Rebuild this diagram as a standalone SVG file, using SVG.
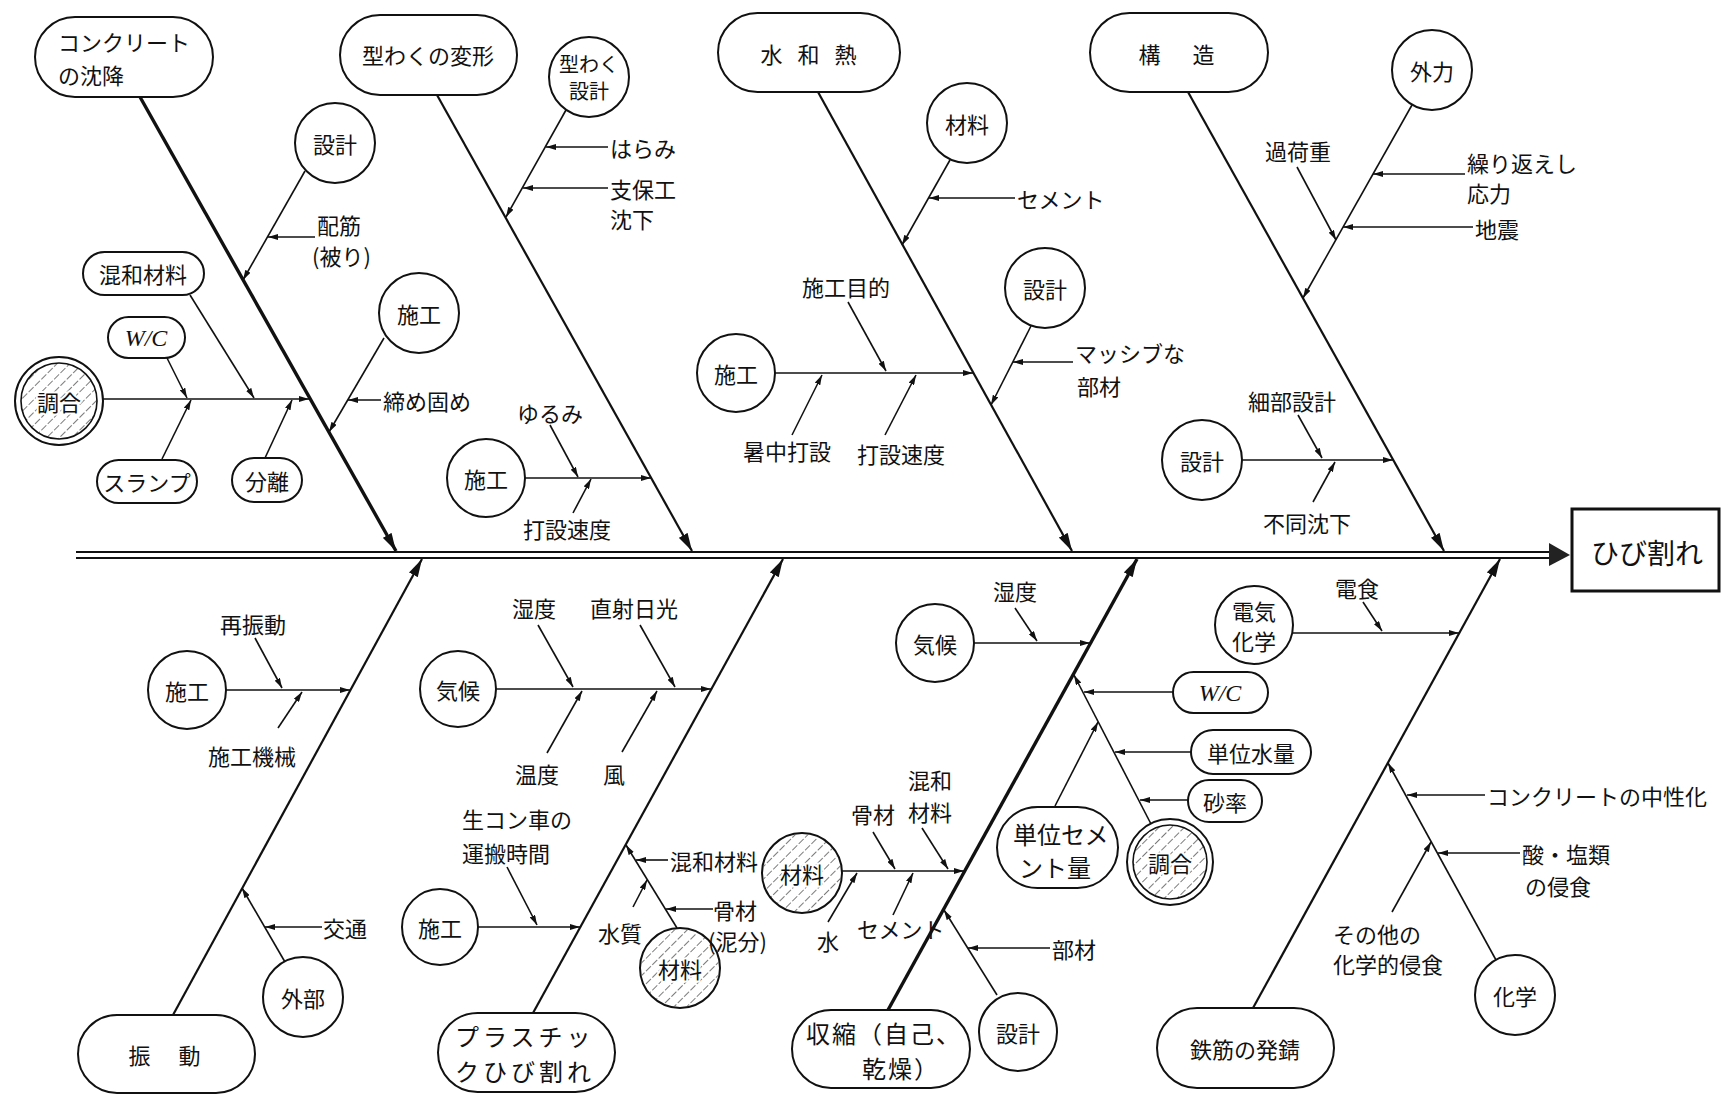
<svg xmlns="http://www.w3.org/2000/svg" width="1722" height="1095" viewBox="0 0 1722 1095">
<defs>
<style>
.bg{fill:#fff}
.n{fill:#fff;stroke:#111;stroke-width:2}
.t{font-family:"Noto Sans CJK JP","Noto Sans",sans-serif;font-size:22px;fill:#111}
.big{font-size:24px;letter-spacing:4px}
.c{text-anchor:middle;dominant-baseline:central}
.s{dominant-baseline:central}
.halo{paint-order:stroke;stroke:#fff;stroke-width:4px;stroke-linejoin:round}
.wc{font-family:"Liberation Serif",serif;font-style:italic;font-size:24px;fill:#111}
.l{stroke:#111;stroke-width:1.6;fill:none;marker-end:url(#a)}
.m{stroke:#111;stroke-width:2.2;fill:none;marker-end:url(#A)}
.mk{stroke:#111;stroke-width:3.4;fill:none;marker-end:url(#A)}
</style>
<marker id="a" viewBox="0 0 10 6" refX="10" refY="3" markerWidth="10" markerHeight="6" markerUnits="userSpaceOnUse" orient="auto"><path d="M0,0 L10,3 L0,6 z" fill="#111"/></marker>
<marker id="A" viewBox="0 0 18 10" refX="18" refY="5" markerWidth="18" markerHeight="10" markerUnits="userSpaceOnUse" orient="auto"><path d="M0,0 L18,5 L0,10 z" fill="#111"/></marker>
<pattern id="hatch" width="9" height="9" patternUnits="userSpaceOnUse" patternTransform="rotate(45)"><line x1="0" y1="0" x2="0" y2="9" stroke="#333" stroke-width="1.3" stroke-dasharray="5 2"/></pattern>
</defs>
<rect class="bg" x="0" y="0" width="1722" height="1095"/>

<g id="connectors">
<line x1="76" y1="552" x2="1552" y2="552" stroke="#111" stroke-width="2"/>
<line x1="76" y1="558" x2="1552" y2="558" stroke="#111" stroke-width="2"/>
<polygon points="1549,543 1570,555 1549,566" fill="#222"/>

<path class="mk" d="M140,97 L396,551"/>
<path class="l" d="M305,171 L243,280"/>
<path class="l" d="M315,237 L268,237"/>
<path class="l" d="M384,338 L329,432"/>
<path class="l" d="M381,400 L348,400"/>
<path class="l" d="M103,399 L309,399"/>
<path class="l" d="M190,295 L254,398"/>
<path class="l" d="M167,358 L187,398"/>
<path class="l" d="M162,459 L191,400"/>
<path class="l" d="M265,458 L292,400"/>

<path class="m" d="M437,95 L692,551"/>
<path class="l" d="M566,110 L506,217"/>
<path class="l" d="M608,147 L546,147"/>
<path class="l" d="M608,188 L523,188"/>
<path class="l" d="M525,478 L651,478"/>
<path class="l" d="M550,425 L578,477"/>
<path class="l" d="M573,513 L591,479"/>

<path class="m" d="M818,92 L1072,551"/>
<path class="l" d="M950,160 L902,245"/>
<path class="l" d="M1015,198 L929,198"/>
<path class="l" d="M1031,326 L991,405"/>
<path class="l" d="M1073,362 L1013,362"/>
<path class="l" d="M775,373 L973,373"/>
<path class="l" d="M848,302 L886,371"/>
<path class="l" d="M792,435 L822,375"/>
<path class="l" d="M885,435 L916,375"/>

<path class="m" d="M1188,92 L1444,551"/>
<path class="l" d="M1412,105 L1303,298"/>
<path class="l" d="M1465,174 L1373,174"/>
<path class="l" d="M1473,227 L1343,227"/>
<path class="l" d="M1297,167 L1336,240"/>
<path class="l" d="M1242,460 L1393,460"/>
<path class="l" d="M1298,415 L1322,458"/>
<path class="l" d="M1313,502 L1335,462"/>

<path class="m" d="M173,1015 L422,559"/>
<path class="l" d="M226,690 L350,690"/>
<path class="l" d="M255,638 L282,688"/>
<path class="l" d="M278,728 L302,692"/>
<path class="l" d="M285,962 L242,888"/>
<path class="l" d="M322,927 L265,927"/>

<path class="m" d="M533,1013 L783,559"/>
<path class="l" d="M496,689 L711,689"/>
<path class="l" d="M538,625 L573,687"/>
<path class="l" d="M640,625 L675,687"/>
<path class="l" d="M547,753 L582,691"/>
<path class="l" d="M622,752 L657,691"/>
<path class="l" d="M478,927 L580,927"/>
<path class="l" d="M507,867 L537,925"/>
<path class="l" d="M677,928 L626,845"/>
<path class="l" d="M668,860 L636,860"/>
<path class="l" d="M713,909 L666,909"/>
<path class="l" d="M633,907 L647,880"/>

<path class="mk" d="M888,1010 L1137,559"/>
<path class="l" d="M974,643 L1090,643"/>
<path class="l" d="M1015,608 L1037,641"/>
<path class="l" d="M842,871 L964,871"/>
<path class="l" d="M873,832 L895,869"/>
<path class="l" d="M922,828 L948,869"/>
<path class="l" d="M828,922 L857,873"/>
<path class="l" d="M893,915 L913,873"/>
<path class="l" d="M997,995 L944,910"/>
<path class="l" d="M1050,948 L968,948"/>
<path class="l" d="M1151,824 L1074,675"/>
<path class="l" d="M1173,692 L1084,692"/>
<path class="l" d="M1191,752 L1115,752"/>
<path class="l" d="M1188,800 L1140,800"/>
<path class="l" d="M1055,806 L1098,722"/>

<path class="m" d="M1253,1008 L1500,559"/>
<path class="l" d="M1292,633 L1459,633"/>
<path class="l" d="M1363,602 L1382,631"/>
<path class="l" d="M1496,960 L1388,763"/>
<path class="l" d="M1485,795 L1407,795"/>
<path class="l" d="M1520,853 L1438,853"/>
<path class="l" d="M1392,912 L1431,842"/>
</g>

<g id="effect">
<rect x="1572" y="509" width="147" height="82" fill="#fff" stroke="#111" stroke-width="3"/>
<text class="t c" x="1647" y="552" style="font-size:28px">ひび割れ</text>
</g>

<g id="cat-settlement"><rect class="n" x="35" y="17" width="178" height="80" rx="40"/>
<text class="t s" x="58" y="41">コンクリート</text><text class="t s" x="58" y="74">の沈降</text></g>
<g id="cat-formwork"><rect class="n" x="340" y="15" width="177" height="80" rx="40"/>
<text class="t c" x="428" y="54">型わくの変形</text></g>
<g id="cat-hydration"><rect class="n" x="718" y="13" width="182" height="79" rx="39.5"/>
<text class="t c" x="811" y="53" style="letter-spacing:5px">水 和 熱</text></g>
<g id="cat-structure"><rect class="n" x="1090" y="13" width="178" height="79" rx="39.5"/>
<text class="t c" x="1179" y="53" style="letter-spacing:5px">構　造</text></g>
<g id="cat-vibration"><rect class="n" x="78" y="1015" width="177" height="78" rx="39"/>
<text class="t c" x="166" y="1054" style="letter-spacing:3px">振　動</text></g>
<g id="cat-plastic"><rect class="n" x="438" y="1013" width="177" height="79" rx="39.5"/>
<text class="t big s" x="455" y="1035">プラスチッ</text><text class="t big s" x="455" y="1070">クひび割れ</text></g>
<g id="cat-shrinkage"><rect class="n" x="792" y="1010" width="178" height="78" rx="39"/>
<text class="t big s" x="806" y="1032" style="letter-spacing:2px">収縮（自己、</text><text class="t big s" x="862" y="1067" style="letter-spacing:2px">乾燥）</text></g>
<g id="cat-rust"><rect class="n" x="1157" y="1008" width="177" height="80" rx="40"/>
<text class="t c" x="1245" y="1048">鉄筋の発錆</text></g>

<g id="n1-design"><circle class="n" cx="335" cy="143" r="40"/><text class="t c" x="335" y="143">設計</text></g>
<g id="n1-work"><circle class="n" cx="419" cy="313" r="40"/><text class="t c" x="419" y="313">施工</text></g>
<g id="n1-admix"><rect class="n" x="83" y="252" width="121" height="43" rx="21.5"/><text class="t c" x="143" y="273">混和材料</text></g>
<g id="n1-wc"><rect class="n" x="108" y="317" width="77" height="41" rx="20.5"/><text class="wc c" x="146" y="338">W/C</text></g>
<g id="n1-mix"><circle class="n" cx="59" cy="401" r="44"/><circle cx="59" cy="401" r="38" fill="url(#hatch)" stroke="#111" stroke-width="1.6"/><text class="t c halo" x="59" y="401">調合</text></g>
<g id="n1-slump"><rect class="n" x="97" y="460" width="100" height="43" rx="21.5"/><text class="t c" x="147" y="481">スランプ</text></g>
<g id="n1-segregation"><rect class="n" x="232" y="458" width="70" height="44" rx="22"/><text class="t c" x="267" y="480">分離</text></g>
<g id="l1-rebar"><text class="t s" x="317" y="224">配筋</text><text class="t s" x="312" y="255">(被り)</text></g>
<g id="l1-compaction"><text class="t s" x="383" y="400">締め固め</text></g>

<g id="n2-formdesign"><circle class="n" cx="589" cy="77" r="40"/><text class="t c" x="589" y="63" style="font-size:20px">型わく</text><text class="t c" x="589" y="90" style="font-size:20px">設計</text></g>
<g id="n2-work"><circle class="n" cx="486" cy="478" r="39"/><text class="t c" x="486" y="478">施工</text></g>
<g id="l2-bulge"><text class="t s" x="610" y="147">はらみ</text></g>
<g id="l2-shoring"><text class="t s" x="610" y="188">支保工</text><text class="t s" x="610" y="218">沈下</text></g>
<g id="l2-loose"><text class="t s" x="517" y="412">ゆるみ</text></g>
<g id="l2-speed"><text class="t s" x="523" y="528">打設速度</text></g>

<g id="n3-material"><circle class="n" cx="967" cy="123" r="40"/><text class="t c" x="967" y="123">材料</text></g>
<g id="n3-design"><circle class="n" cx="1045" cy="288" r="40"/><text class="t c" x="1045" y="288">設計</text></g>
<g id="n3-work"><circle class="n" cx="736" cy="373" r="39"/><text class="t c" x="736" y="373">施工</text></g>
<g id="l3-cement"><text class="t s" x="1017" y="198">セメント</text></g>
<g id="l3-massive"><text class="t s" x="1075" y="352">マッシブな</text><text class="t s" x="1077" y="385">部材</text></g>
<g id="l3-purpose"><text class="t s" x="802" y="286">施工目的</text></g>
<g id="l3-hot"><text class="t s" x="743" y="450">暑中打設</text></g>
<g id="l3-speed"><text class="t s" x="857" y="453">打設速度</text></g>

<g id="n4-external"><circle class="n" cx="1432" cy="70" r="40"/><text class="t c" x="1432" y="70">外力</text></g>
<g id="n4-design"><circle class="n" cx="1202" cy="460" r="40"/><text class="t c" x="1202" y="460">設計</text></g>
<g id="l4-overload"><text class="t s" x="1265" y="150">過荷重</text></g>
<g id="l4-repeat"><text class="t s" x="1467" y="162">繰り返えし</text><text class="t s" x="1467" y="192">応力</text></g>
<g id="l4-quake"><text class="t s" x="1475" y="228">地震</text></g>
<g id="l4-detail"><text class="t s" x="1248" y="400">細部設計</text></g>
<g id="l4-uneven"><text class="t s" x="1263" y="522">不同沈下</text></g>

<g id="n5-work"><circle class="n" cx="187" cy="690" r="39"/><text class="t c" x="187" y="690">施工</text></g>
<g id="n5-outside"><circle class="n" cx="303" cy="997" r="40"/><text class="t c" x="303" y="997">外部</text></g>
<g id="l5-revib"><text class="t s" x="220" y="623">再振動</text></g>
<g id="l5-machine"><text class="t s" x="208" y="755">施工機械</text></g>
<g id="l5-traffic"><text class="t s" x="323" y="927">交通</text></g>

<g id="n6-climate"><circle class="n" cx="458" cy="689" r="38"/><text class="t c" x="458" y="689">気候</text></g>
<g id="n6-work"><circle class="n" cx="440" cy="927" r="38"/><text class="t c" x="440" y="927">施工</text></g>
<g id="n6-material"><circle class="n" cx="680" cy="968" r="40"/><circle cx="680" cy="968" r="39" fill="url(#hatch)"/><text class="t c halo" x="680" y="968">材料</text></g>
<g id="l6-humid"><text class="t s" x="512" y="607">湿度</text></g>
<g id="l6-sun"><text class="t s" x="590" y="607">直射日光</text></g>
<g id="l6-temp"><text class="t s" x="515" y="773">温度</text></g>
<g id="l6-wind"><text class="t s" x="603" y="773">風</text></g>
<g id="l6-transport"><text class="t s" x="462" y="818">生コン車の</text><text class="t s" x="462" y="852">運搬時間</text></g>
<g id="l6-admix"><text class="t s" x="670" y="860">混和材料</text></g>
<g id="l6-agg"><text class="t s" x="713" y="909">骨材</text><text class="t s" x="708" y="940">(泥分)</text></g>
<g id="l6-water"><text class="t s" x="598" y="932">水質</text></g>

<g id="n7-climate"><circle class="n" cx="935" cy="643" r="39"/><text class="t c" x="935" y="643">気候</text></g>
<g id="n7-material"><circle class="n" cx="802" cy="873" r="40"/><circle cx="802" cy="873" r="39" fill="url(#hatch)"/><text class="t c halo" x="802" y="873">材料</text></g>
<g id="n7-design"><circle class="n" cx="1018" cy="1032" r="39"/><text class="t c" x="1018" y="1032">設計</text></g>
<g id="n7-cement"><rect class="n" x="997" y="807" width="121" height="81" rx="40.5"/><text class="t s" x="1013" y="833" style="font-size:24px">単位セメ</text><text class="t s" x="1019" y="866" style="font-size:24px">ント量</text></g>
<g id="n7-mix"><circle class="n" cx="1170" cy="862" r="43"/><circle cx="1170" cy="862" r="37" fill="url(#hatch)" stroke="#111" stroke-width="1.6"/><text class="t c halo" x="1170" y="862">調合</text></g>
<g id="n7-wc"><rect class="n" x="1173" y="672" width="95" height="41" rx="20.5"/><text class="wc c" x="1220" y="693">W/C</text></g>
<g id="n7-water"><rect class="n" x="1191" y="730" width="120" height="44" rx="22"/><text class="t c" x="1251" y="752">単位水量</text></g>
<g id="n7-sand"><rect class="n" x="1188" y="780" width="74" height="42" rx="21"/><text class="t c" x="1225" y="801">砂率</text></g>
<g id="l7-humid"><text class="t s" x="993" y="590">湿度</text></g>
<g id="l7-agg"><text class="t s" x="851" y="813">骨材</text></g>
<g id="l7-admix"><text class="t s" x="908" y="779">混和</text><text class="t s" x="908" y="811">材料</text></g>
<g id="l7-water"><text class="t s" x="817" y="940">水</text></g>
<g id="l7-cement"><text class="t s" x="857" y="928">セメント</text></g>
<g id="l7-member"><text class="t s" x="1052" y="948">部材</text></g>

<g id="n8-electro"><circle class="n" cx="1254" cy="625" r="39"/><text class="t c" x="1254" y="610">電気</text><text class="t c" x="1254" y="640">化学</text></g>
<g id="n8-chem"><circle class="n" cx="1515" cy="995" r="40"/><text class="t c" x="1515" y="995">化学</text></g>
<g id="l8-corrosion"><text class="t s" x="1335" y="587">電食</text></g>
<g id="l8-neutral"><text class="t s" x="1487" y="795">コンクリートの中性化</text></g>
<g id="l8-acid"><text class="t s" x="1522" y="853">酸・塩類</text><text class="t s" x="1525" y="885">の侵食</text></g>
<g id="l8-other"><text class="t s" x="1333" y="933">その他の</text><text class="t s" x="1333" y="963">化学的侵食</text></g>
</svg>
